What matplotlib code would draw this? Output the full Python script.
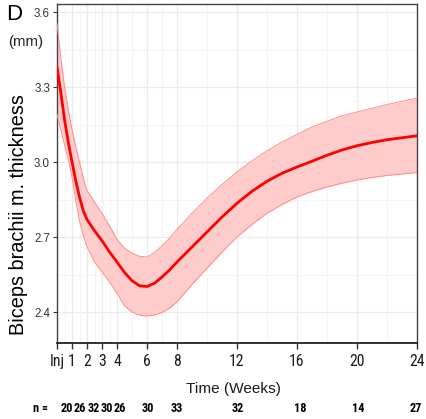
import matplotlib
matplotlib.use("Agg")
import matplotlib.pyplot as plt
from matplotlib import font_manager
import matplotlib.transforms as mtransforms

# ---------------- data ----------------
weeks = [0, 0.25, 0.5, 0.75, 1, 1.25, 1.5, 1.75, 2, 2.5, 3, 3.5, 4, 4.5, 5, 5.5, 6, 6.5, 7, 7.5, 8,
         9, 10, 11, 12, 13, 14, 15, 16, 17, 18, 19, 20, 21, 22, 23, 24]
mean = [3.38, 3.28, 3.17, 3.08, 3.00, 2.925, 2.86, 2.805, 2.77, 2.725, 2.685, 2.64, 2.60, 2.558, 2.525,
        2.505, 2.502, 2.515, 2.54, 2.568, 2.60,
        2.66, 2.72, 2.78, 2.835, 2.883, 2.923, 2.955, 2.98, 3.003, 3.027, 3.048, 3.065, 3.078, 3.089, 3.097, 3.105]
upper = [3.555, 3.42, 3.30, 3.21, 3.13, 3.06, 3.00, 2.935, 2.885, 2.84, 2.795, 2.745, 2.69, 2.655, 2.635,
         2.623, 2.62, 2.638, 2.665, 2.695, 2.73,
         2.795, 2.855, 2.91, 2.96, 3.005, 3.045, 3.08, 3.11, 3.14, 3.163, 3.185, 3.20, 3.215, 3.23, 3.243, 3.255]
lower = [3.19, 3.13, 3.07, 3.01, 2.94, 2.845, 2.765, 2.705, 2.66, 2.60, 2.56, 2.52, 2.475, 2.425, 2.40,
         2.387, 2.384, 2.388, 2.398, 2.415, 2.44,
         2.51, 2.575, 2.64, 2.70, 2.75, 2.795, 2.83, 2.86, 2.882, 2.90, 2.915, 2.928, 2.938, 2.946, 2.952, 2.958]

xtick_vals = [0, 1, 2, 3, 4, 6, 8, 12, 16, 20, 24]
xtick_labels = ["Inj", "1", "2", "3", "4", "6", "8", "12", "16", "20", "24"]
ytick_vals = [2.4, 2.7, 3.0, 3.3, 3.6]
ytick_labels = ["2.4", "2.7", "3.0", "3.3", "3.6"]
n_counts = ["20", "26", "32", "30", "26", "30", "33", "32", "18", "14", "27"]

# layout (text positions in week units for the n row)
n_pos = [0.67, 1.55, 2.47, 3.35, 4.2, 6.07, 8.0, 12.07, 16.2, 20.1, 23.9]

# ---------------- fonts ----------------
fl = font_manager.fontManager.ttflist
avail = {f.name for f in fl}
reg = "Liberation Sans" if "Liberation Sans" in avail else "DejaVu Sans"
narrow = None
for f in fl:
    if "Narrow" in f.name or "Condensed" in f.name:
        narrow = f.name
        if "Liberation" in f.name or "Arial" in f.name:
            break
plt.rcParams["font.family"] = [reg, "DejaVu Sans"]

W, H = 426, 419
fig = plt.figure(figsize=(W / 100, H / 100), dpi=100)
fig.patch.set_facecolor("white")
ax = fig.add_axes([57 / W, 1 - 343 / H, (417 - 57) / W, (343 - 4) / H])

# grid
for v in [0.5, 1.5, 2.5, 3.5, 5, 7, 10, 14, 18, 22]:
    ax.axvline(v, color="#f3f3f3", lw=0.6, zorder=0)
for v in xtick_vals:
    ax.axvline(v, color="#ebebeb", lw=0.9, zorder=0)
for v in [2.55, 2.85, 3.15, 3.45]:
    ax.axhline(v, color="#f3f3f3", lw=0.6, zorder=0)
for v in ytick_vals:
    ax.axhline(v, color="#ebebeb", lw=0.9, zorder=0)

ax.fill_between(weeks, lower, upper, color="#ffcccc", lw=0, zorder=2)
ax.plot(weeks, upper, color="#ff8c8c", lw=0.7, zorder=3)
ax.plot(weeks, lower, color="#ff8c8c", lw=0.7, zorder=3)
ax.plot(weeks, mean, color="#ff0000", lw=2.0, zorder=4, solid_capstyle="round",
        solid_joinstyle="round")

ax.set_xlim(0, 24)
ax.set_ylim(3.6 - (343 - 12) / 250, 3.6 + 8 / 250)
ax.set_xticks(xtick_vals)
if narrow:
    ax.set_xticklabels(xtick_labels, fontsize=11.3, family=[narrow, "DejaVu Sans"], color="#1a1a1a")
else:
    ax.set_xticklabels(xtick_labels, fontsize=10.5, color="#1a1a1a")
ax.set_yticks(ytick_vals)
ax.set_yticklabels(ytick_labels, fontsize=8.3, color="#333333")
ax.tick_params(axis="x", length=4, width=1, color="#333333", pad=4)
ax.tick_params(axis="y", length=3, width=0.8, color="#333333", pad=2)
for s in ax.spines.values():
    s.set_color("#444444")
    s.set_linewidth(1.0)
ax.spines["bottom"].set_linewidth(1.3)
ax.spines["bottom"].set_color("#222222")

# texts
fig.text(14 / W, 1 - 15 / H, "D", fontsize=16, ha="center", va="center")
fig.text(26 / W, 1 - 42 / H, "(mm)", fontsize=10.8, ha="center", va="center", color="#222222")
fig.text(19 / W, 1 - 215 / H, "Biceps brachii m. thickness", fontsize=14.3, rotation=90,
         ha="center", va="center")
fig.text(233 / W, 1 - 389 / H, "Time (Weeks)", fontsize=11.1, ha="center", va="center",
         color="#1a1a1a")

trans = mtransforms.blended_transform_factory(ax.transData, fig.transFigure)
nfam = [narrow, "DejaVu Sans"] if narrow else [reg, "DejaVu Sans"]
nsize = 8.8 if narrow else 8.0
fig.text(41 / W, 1 - 408 / H, "n =", fontsize=nsize, ha="center", va="center",
         family=nfam, fontweight="bold")
for p, n in zip(n_pos, n_counts):
    ax.text(p, 1 - 408 / H, n, transform=trans, fontsize=nsize, ha="center", va="center",
            family=nfam, fontweight="bold", clip_on=False)

fig.savefig("out.png", dpi=100)
